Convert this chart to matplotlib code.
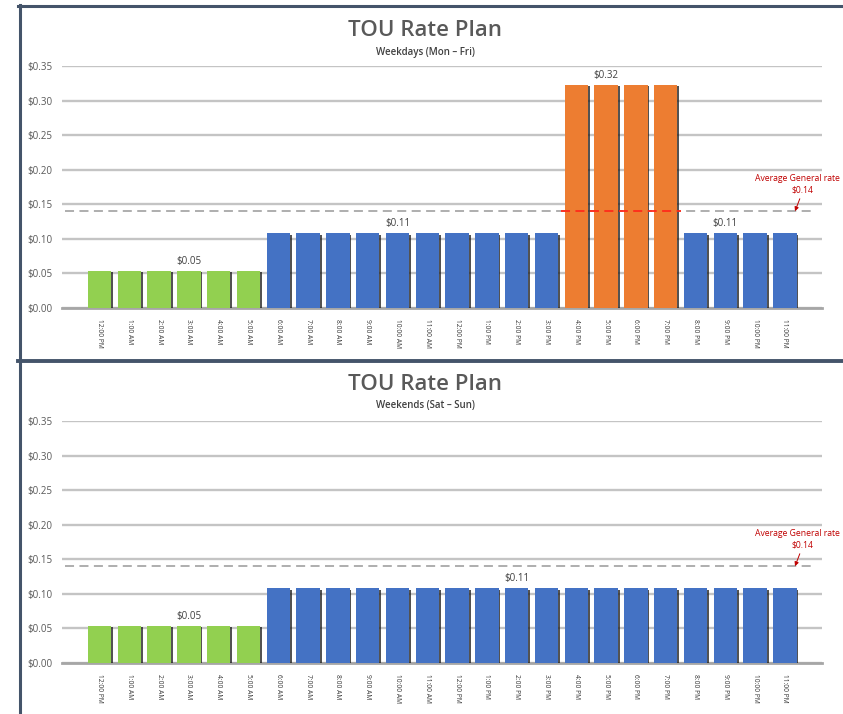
import matplotlib
matplotlib.use("Agg")
import matplotlib.pyplot as plt
import matplotlib.patheffects as pe
from matplotlib.lines import Line2D
import numpy as np

plt.rcParams['font.family'] = ['Open Sans', 'DejaVu Sans']

# hourly TOU rates ($/kWh)
hours = ["12:00 PM", "1:00 AM", "2:00 AM", "3:00 AM", "4:00 AM", "5:00 AM",
         "6:00 AM", "7:00 AM", "8:00 AM", "9:00 AM", "10:00 AM", "11:00 AM",
         "12:00 PM", "1:00 PM", "2:00 PM", "3:00 PM", "4:00 PM", "5:00 PM",
         "6:00 PM", "7:00 PM", "8:00 PM", "9:00 PM", "10:00 PM", "11:00 PM"]

weekday_tiers = ["off"] * 6 + ["mid"] * 10 + ["peak"] * 4 + ["mid"] * 4
weekday_rates = [0.054, 0.054, 0.054, 0.054, 0.054, 0.054,
                 0.108, 0.108, 0.108, 0.108, 0.108, 0.108,
                 0.108, 0.108, 0.108, 0.108, 0.323, 0.323,
                 0.323, 0.323, 0.108, 0.108, 0.108, 0.108]
weekday_labels = [3, 10, 17, 21]

weekend_tiers = ["off"] * 6 + ["mid"] * 18
weekend_rates = [0.054, 0.054, 0.054, 0.054, 0.054, 0.054,
                 0.108, 0.108, 0.108, 0.108, 0.108, 0.108,
                 0.108, 0.108, 0.108, 0.108, 0.108, 0.108,
                 0.108, 0.108, 0.108, 0.108, 0.108, 0.108]
weekend_labels = [3, 14]

avg_rate = 0.14

tier_colors = {"off": "#92d050", "mid": "#4472c4", "peak": "#ed7d31"}

W, H = 843, 714
fig = plt.figure(figsize=(W / 100, H / 100), dpi=100)


def px_box(left, top, right, bottom):
    return [left / W, 1 - bottom / H, (right - left) / W, (bottom - top) / H]


def draw_panel(ax, rates, tiers, label_idx):
    x = np.arange(len(rates))
    colors = [tier_colors[t] for t in tiers]
    bars = ax.bar(x, rates, width=0.79, color=colors, zorder=3)
    for b in bars:
        b.set_path_effects([pe.SimplePatchShadow(offset=(1.3, -1.0),
                                                 shadow_rgbFace='#1a1a1a', alpha=0.75),
                            pe.Normal()])

    ax.set_xlim(-1.258, 24.245)
    ax.set_ylim(0, 0.35)
    ax.set_yticks(np.arange(0, 0.351, 0.05))
    ax.yaxis.set_major_formatter(lambda v, p: f"${v:.2f}")
    ax.tick_params(axis='y', length=0, pad=7, labelsize=7, labelcolor='#595959')
    ax.set_xticks(x)
    ax.set_xticklabels(hours, rotation=-90, fontsize=4.8, color='#333333')
    ax.tick_params(axis='x', length=0, pad=8)

    ax.yaxis.grid(True, color='#c4c4c4', lw=1.7)
    ax.set_axisbelow(True)
    for s in ['top', 'right', 'left']:
        ax.spines[s].set_visible(False)
    ax.spines['bottom'].set_color('#a6a6a6')
    ax.spines['bottom'].set_linewidth(2)

    for i in label_idx:
        ax.text(i, rates[i] + 0.006, f"${rates[i]:.2f}", ha='center', va='bottom',
                fontsize=7, color='#404040', zorder=5)

    # average general rate reference line
    ax.plot([-1.16, 24.0], [avg_rate, avg_rate], ls=(0, (5, 3)), color='#a8a8a8',
            lw=1.3, zorder=2)
    peak = [i for i, t in enumerate(tiers) if t == "peak"]
    if peak:
        ax.plot([min(peak) - 0.5, max(peak) + 0.5], [avg_rate, avg_rate],
                ls=(0, (5, 3)), color='#ff2a1a', lw=1.3, zorder=4)

    ax.annotate('', xy=(23.34, avg_rate), xytext=(23.5, 0.158),
                arrowprops=dict(arrowstyle='-|>', color='#c00000', lw=0.7,
                                mutation_scale=6, shrinkA=0, shrinkB=0))
    ax.text(24.85, 0.188, "Average General rate", ha='right', va='center',
            fontsize=6.2, color='#c00000', clip_on=False)
    ax.text(23.6, 0.171, f"${avg_rate:.2f}", ha='center', va='center',
            fontsize=6.2, color='#c00000', clip_on=False)


ax1 = fig.add_axes(px_box(62, 66, 822, 308))
draw_panel(ax1, weekday_rates, weekday_tiers, weekday_labels)
fig.text(425 / W, 1 - 31 / H, "TOU Rate Plan", ha='center', va='center',
         fontsize=16, fontweight='semibold', color='#595959')
fig.text(425 / W, 1 - 53 / H, "Weekdays (Mon \u2013 Fri)", ha='center', va='center',
         fontsize=7, fontweight='semibold', color='#404040')

ax2 = fig.add_axes(px_box(62, 421, 822, 663))
draw_panel(ax2, weekend_rates, weekend_tiers, weekend_labels)
fig.text(425 / W, 1 - 384 / H, "TOU Rate Plan", ha='center', va='center',
         fontsize=16, fontweight='semibold', color='#595959')
fig.text(425 / W, 1 - 406 / H, "Weekends (Sat \u2013 Sun)", ha='center', va='center',
         fontsize=7, fontweight='semibold', color='#404040')

# chart frames
frame = '#44546a'
fig.add_artist(Line2D([18 / W, 1.01], [1 - 5.5 / H, 1 - 5.5 / H], color=frame, lw=2.2))
fig.add_artist(Line2D([19.5 / W, 19.5 / W], [1 - 5 / H, -0.01], color=frame, lw=2.2))
fig.add_artist(Line2D([18 / W, 1.01], [1 - 361 / H, 1 - 361 / H], color=frame, lw=2.8))

fig.savefig("out.png", dpi=100)
